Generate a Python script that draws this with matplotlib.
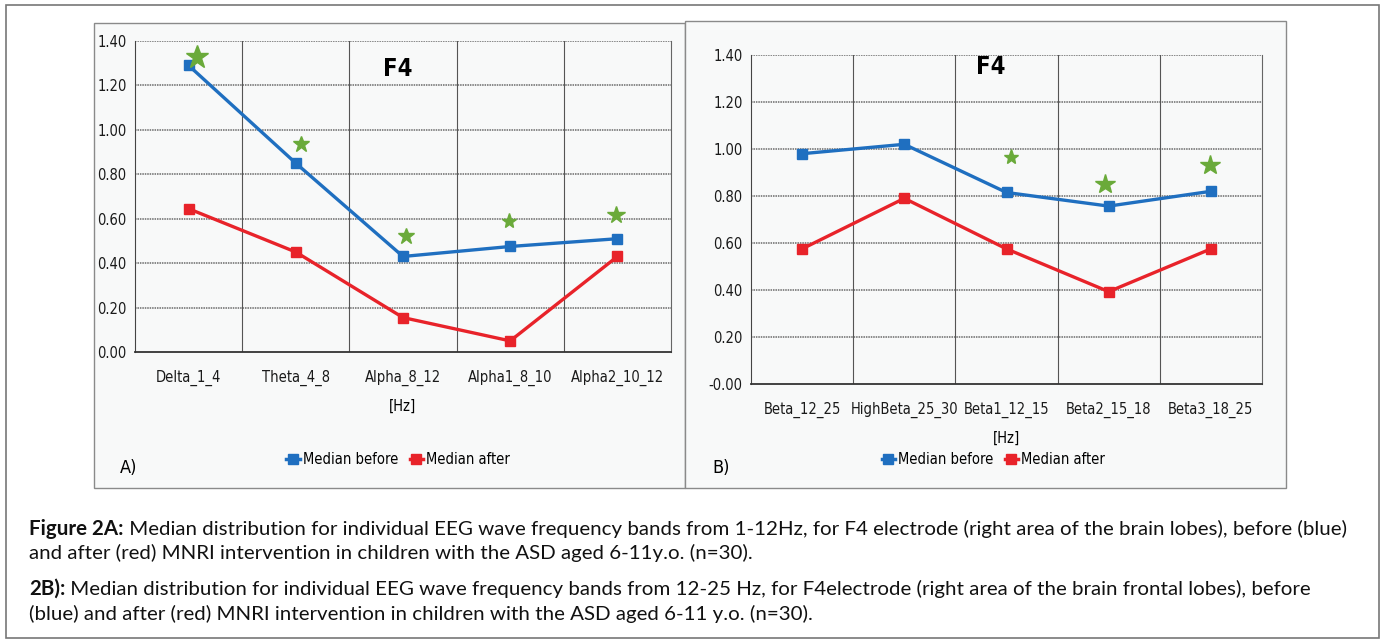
import matplotlib.pyplot as plt
from matplotlib.patches import Rectangle
from matplotlib.lines import Line2D
import numpy as np

# panel A data
bands_a = ["Delta_1_4", "Theta_4_8", "Alpha_8_12", "Alpha1_8_10", "Alpha2_10_12"]
before_a = [1.29, 0.85, 0.43, 0.475, 0.51]
after_a = [0.645, 0.45, 0.155, 0.05, 0.43]
stars_a = [1.33, 0.935, 0.52, 0.59, 0.615]

# panel B data
bands_b = ["Beta_12_25", "HighBeta_25_30", "Beta1_12_15", "Beta2_15_18", "Beta3_18_25"]
before_b = [0.98, 1.02, 0.815, 0.757, 0.82]
after_b = [0.575, 0.79, 0.575, 0.393, 0.575]
stars_b = [None, None, 0.965, 0.85, 0.93]

yticks = [0.0, 0.2, 0.4, 0.6, 0.8, 1.0, 1.2, 1.4]

W, H = 1385, 641
BLUE = "#1f6fc0"
RED = "#e8232a"
GREEN = "#6aaa3a"
PANEL = "#f8f9f9"
chart_font = dict(family="DejaVu Sans", stretch="condensed")

fig = plt.figure(figsize=(W / 100, H / 100), dpi=100)
fig.patch.set_facecolor("white")


def box(x0, y0, x1, y1, **kw):
    # pixel coords, origin top-left
    r = Rectangle((x0 / W, 1 - y1 / H), (x1 - x0) / W, (y1 - y0) / H,
                  transform=fig.transFigure, zorder=-5, **kw)
    fig.add_artist(r)


def ax_at(x0, y0, x1, y1):
    return fig.add_axes([x0 / W, 1 - y1 / H, (x1 - x0) / W, (y1 - y0) / H])


box(6, 5, 1379, 638, facecolor="white", edgecolor="#777777", lw=1.2)
box(94, 23, 685, 488, facecolor=PANEL, edgecolor="#8a8a8a", lw=1.0)
box(685, 21, 1286, 488, facecolor=PANEL, edgecolor="#8a8a8a", lw=1.0)


def draw(ax, bands, before, after, stars, star_sizes, star_dx, ylabels, title_xy):
    x = np.arange(len(bands))
    ax.set_facecolor(PANEL)
    ax.set_xlim(-0.5, len(bands) - 0.5)
    ax.set_ylim(0, 1.4)
    ax.set_yticks(yticks)
    ax.set_yticklabels(ylabels, fontsize=10.5, color="#1a1a1a", **chart_font)
    ax.set_xticks(x)
    ax.set_xticklabels(bands, fontsize=10.5, color="#1a1a1a", **chart_font)
    ax.tick_params(length=0, pad=6)
    ax.tick_params(axis="x", pad=13)
    for yv in yticks[1:]:
        ax.axhline(yv, color="#6a6a6a", lw=1.1, ls=(0, (1, 0.6)), zorder=1)
    for xv in x[:-1] + 0.5:
        ax.axvline(xv, color="#555555", lw=0.8, zorder=1)
    ax.spines["top"].set_visible(False)
    ax.spines["right"].set_color("#666666")
    ax.spines["left"].set_color("#444444")
    ax.spines["bottom"].set_color("#333333")
    ax.spines["bottom"].set_linewidth(1.3)
    ax.plot(x, before, color=BLUE, lw=2.4, marker="s", ms=7.5, zorder=3)
    ax.plot(x, after, color=RED, lw=2.4, marker="s", ms=7.5, zorder=3)
    for xi, sv, sz, dx in zip(x, stars, star_sizes, star_dx):
        if sv is not None:
            ax.plot(xi + dx, sv, marker="*", color=GREEN, ms=sz, mec=GREEN, zorder=4)
    ax.text(title_xy[0], title_xy[1], "F4", transform=ax.transAxes, ha="center",
            va="center", fontsize=17, fontweight="bold", **chart_font)
    ax.set_xlabel("[Hz]", fontsize=10.5, labelpad=9, **chart_font)
    handles = [Line2D([], [], color=BLUE, marker="s", ms=7, lw=2.5),
               Line2D([], [], color=RED, marker="s", ms=7, lw=2.5)]
    return handles


leg_prop = dict(size=10.5, **chart_font)

ax_a = ax_at(135, 41, 671, 352)
h = draw(ax_a, bands_a, before_a, after_a, stars_a,
         [17, 12, 12, 11, 13], [0.08, 0.05, 0.03, -0.01, -0.01],
         ["%.2f" % v for v in yticks], (0.49, 0.91))
fig.legend(h, ["Median before", "Median after"], loc="center",
           bbox_to_anchor=(398 / W, 1 - 460 / H), ncol=2, frameon=False,
           handlelength=0.9, handletextpad=0.2, columnspacing=0.8, prop=leg_prop)
fig.text(120 / W, 1 - 468 / H, "A)", fontsize=13, va="center", **chart_font)

ax_b = ax_at(751, 55, 1262, 384)
h = draw(ax_b, bands_b, before_b, after_b, stars_b,
         [1, 1, 11, 15, 15], [0, 0, 0.04, -0.04, -0.01],
         ["-0.00"] + ["%.2f" % v for v in yticks[1:]], (0.47, 0.965))
fig.legend(h, ["Median before", "Median after"], loc="center",
           bbox_to_anchor=(993 / W, 1 - 460 / H), ncol=2, frameon=False,
           handlelength=0.9, handletextpad=0.2, columnspacing=0.8, prop=leg_prop)
fig.text(712 / W, 1 - 468 / H, "B)", fontsize=13, va="center", **chart_font)

# caption; font size fitted so the first line spans the same width as in the reference
cap_font = ["Lato", "DejaVu Sans"]
caption = [
    ("Figure 2A:", " Median distribution for individual EEG wave frequency bands from 1-12Hz, for F4 electrode (right area of the brain lobes), before (blue)", 529),
    ("", "and after (red) MNRI intervention in children with the ASD aged 6-11y.o. (n=30).", 553),
    ("2B):", " Median distribution for individual EEG wave frequency bands from 12-25 Hz, for F4electrode (right area of the brain frontal lobes), before", 589),
    ("", "(blue) and after (red) MNRI intervention in children with the ASD aged 6-11 y.o. (n=30).", 614),
]
renderer = fig.canvas.get_renderer()
x_start = 29
probe_b = fig.text(0, 0, caption[0][0], fontsize=12.5, fontweight="bold", family=cap_font)
probe_r = fig.text(0, 0, caption[0][1], fontsize=12.5, family=cap_font)
w0 = probe_b.get_window_extent(renderer).width + probe_r.get_window_extent(renderer).width
size = 12.5 * (1349 - x_start) / w0
probe_b.remove()
probe_r.remove()

for bold, rest, yc in caption:
    x = x_start
    if bold:
        t = fig.text(x / W, 1 - yc / H, bold, fontsize=size, fontweight="bold",
                     family=cap_font, va="center", color="#111111")
        x += t.get_window_extent(renderer).width
    fig.text(x / W, 1 - yc / H, rest, fontsize=size, family=cap_font,
             va="center", color="#111111")

fig.savefig("out.png", dpi=100)
